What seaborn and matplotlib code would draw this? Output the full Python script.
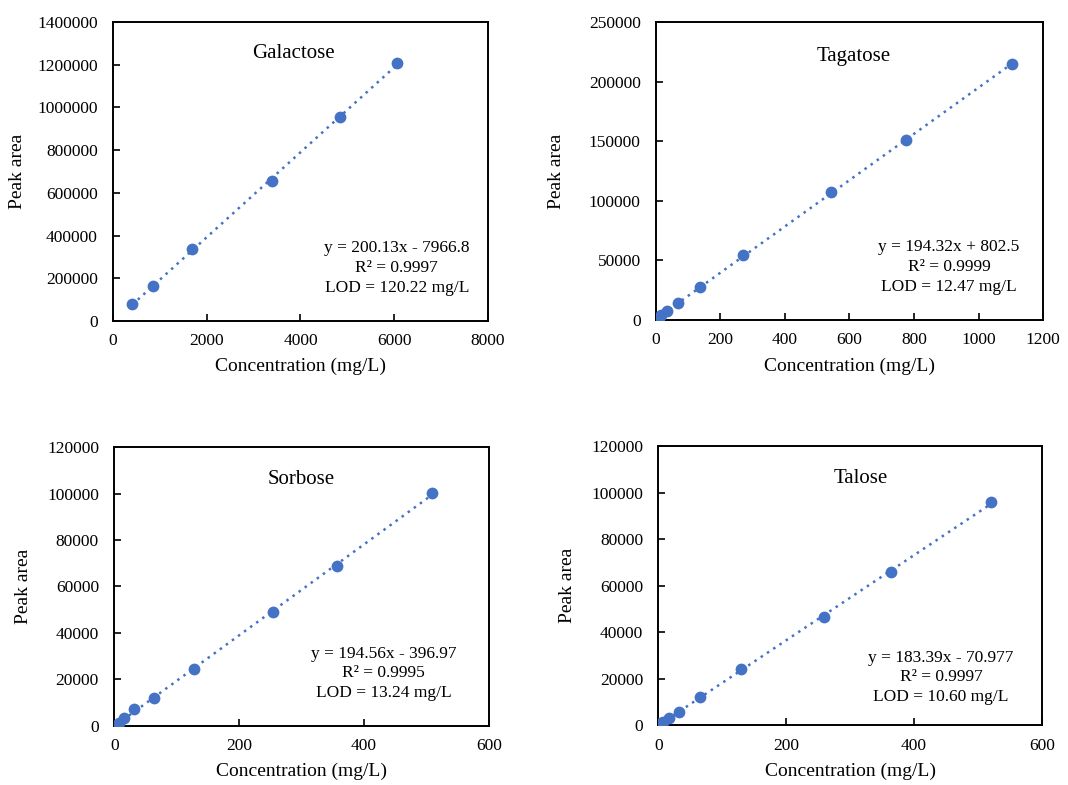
import matplotlib
matplotlib.use('Agg')
import matplotlib.pyplot as plt
import seaborn as sns
import numpy as np

# values
sugars = ['Galactose', 'Tagatose', 'Sorbose', 'Talose']

galactose_conc = [412, 846, 1685, 3392, 4843, 6052]
galactose_area = [78200, 164200, 334700, 655400, 954200, 1206000]

tagatose_conc = [4.3, 8.6, 17, 34.5, 69, 137, 270, 542, 775, 1105]
tagatose_area = [1100, 2000, 3800, 7500, 14600, 27400, 54600, 107200, 150900, 214700]

sorbose_conc = [4, 7.9, 15.9, 31.7, 63.5, 127, 254, 357, 508.6]
sorbose_area = [400, 1200, 3160, 7180, 11770, 24260, 49100, 68600, 100300]

talose_conc = [4, 8.1, 16.2, 32.9, 65.7, 129.4, 259.3, 363.7, 520.2]
talose_area = [700, 1400, 2870, 5730, 11900, 23940, 46600, 65660, 95770]

fit_labels = [
    'y = 200.13x - 7966.8\nR² = 0.9997\nLOD = 120.22 mg/L',
    'y = 194.32x + 802.5\nR² = 0.9999\nLOD = 12.47 mg/L',
    'y = 194.56x - 396.97\nR² = 0.9995\nLOD = 13.24 mg/L',
    'y = 183.39x - 70.977\nR² = 0.9997\nLOD = 10.60 mg/L',
]

x_max = [8000, 1200, 600, 600]
x_step = [2000, 200, 200, 200]
y_max = [1400000, 250000, 120000, 120000]
y_step = [200000, 50000, 20000, 20000]

sns.set_style('ticks')
plt.rcParams['font.family'] = ['Liberation Serif', 'DejaVu Serif']

blue = '#4472C4'

fig = plt.figure(figsize=(10.68, 7.85), dpi=100)
axes_rects = [
    [0.1058, 0.5911, 0.3511, 0.3810],
    [0.6142, 0.5924, 0.3624, 0.3796],
    [0.1070, 0.0755, 0.3506, 0.3550],
    [0.6164, 0.0764, 0.3590, 0.3554],
]
title_pos = [(0.48, 0.896), (0.51, 0.883), (0.50, 0.882), (0.528, 0.882)]
fit_pos = [(0.757, 0.177), (0.757, 0.178), (0.72, 0.188), (0.737, 0.171)]
ylabel_x = [-0.232, -0.235, -0.22, -0.215]
xlabel_y = [-0.124, -0.128, -0.134, -0.136]

data = [
    (galactose_conc, galactose_area),
    (tagatose_conc, tagatose_area),
    (sorbose_conc, sorbose_area),
    (talose_conc, talose_area),
]

for i, (conc, area) in enumerate(data):
    ax = fig.add_axes(axes_rects[i])
    sns.regplot(x=conc, y=area, ax=ax, ci=None, color=blue,
                scatter_kws=dict(s=72, linewidths=0, alpha=1, zorder=3),
                line_kws=dict(ls=(0, (1, 2)), lw=1.8, zorder=2))
    ax.set_xlim(0, x_max[i])
    ax.set_ylim(0, y_max[i])
    ax.set_xticks(np.arange(0, x_max[i] + 1, x_step[i]))
    ax.set_yticks(np.arange(0, y_max[i] + 1, y_step[i]))
    ax.ticklabel_format(style='plain', axis='both', useOffset=False)
    ax.tick_params(axis='both', direction='in', length=5, width=1.2,
                   labelsize=12.5, color='black', labelcolor='black')
    ax.tick_params(axis='x', pad=9)
    ax.tick_params(axis='y', pad=11)
    for sp in ax.spines.values():
        sp.set_visible(True)
        sp.set_color('black')
        sp.set_linewidth(1.4)

    ax.set_xlabel('Concentration (mg/L)', fontsize=14, color='black')
    ax.set_ylabel('Peak area', fontsize=14, color='black')
    ax.xaxis.set_label_coords(0.5, xlabel_y[i])
    ax.yaxis.set_label_coords(ylabel_x[i], 0.5)

    ax.text(title_pos[i][0], title_pos[i][1], sugars[i], transform=ax.transAxes,
            ha='center', va='center', fontsize=15, color='black')
    ax.text(fit_pos[i][0], fit_pos[i][1], fit_labels[i], transform=ax.transAxes,
            ha='center', va='center', fontsize=12.5, linespacing=1.3,
            multialignment='center', color='black')

fig.savefig('out.png', dpi=100)
